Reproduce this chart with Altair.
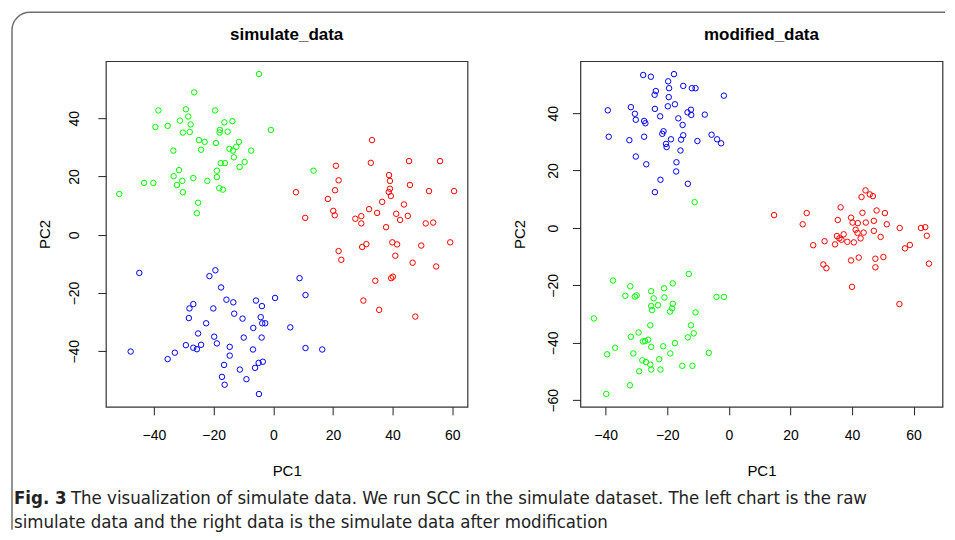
import altair as alt
import pandas as pd

# ---------------- data ----------------
# left panel: simulate_data
sim_red_x = [33.1, 21.0, 32.7, 45.5, 55.9, 38.8, 39.1, 21.9, 45.8, 20.7, 39.1, 38.7, 39.4, 7.6, 52.2, 60.6, 18.3, 36.5, 43.8, 20.1,
             20.6, 32.1, 34.8, 10.7, 27.5, 29.5, 29.5, 41.2, 42.5, 45.1, 37.8, 51.1, 53.6, 31.2, 29.8, 39.9, 41.5, 49.6, 59.3, 21.9,
             22.8, 40.9, 46.7, 54.6, 40.1, 39.5, 34.2, 30.2, 35.5, 47.6]
sim_red_y = [32.5, 23.7, 24.7, 25.3, 25.3, 20.5, 18.5, 18.7, 17.1, 15.3, 15.8, 14.7, 13.3, 14.6, 15.0, 15.0, 12.3, 11.3, 10.4, 8.2,
             6.7, 8.8, 7.5, 5.8, 5.5, 6.4, 3.9, 7.2, 5.1, 6.5, 2.6, 3.9, 4.2, -3.2, -4.2, -2.6, -3.3, -3.7, -2.6, -5.6,
             -8.6, -7.2, -9.6, -10.9, -14.4, -14.9, -15.8, -22.6, -25.8, -28.1]
sim_green_x = [-4.8, -26.5, -38.5, -29.3, -19.5, -28.5, -31.3, -16.4, -13.7, -39.5, -35.4, -27.7, -0.8, -30.3, -28.0, -17.9, -18.0,
               -15.3, -24.9, -23.0, -19.2, -11.5, -12.4, -14.7, -13.5, -33.5, -24.2, -7.4, -13.2, -9.6, -17.6, -16.2, -11.3, -31.6,
               -18.9, -33.4, -26.8, -18.9, -30.5, -22.1, -43.3, -40.2, -32.3, -18.1, -16.9, -51.6, -30.3, -25.2, -25.6, 13.5]
sim_green_y = [55.2, 48.9, 42.7, 43.1, 42.7, 40.6, 39.2, 38.6, 39.0, 37.0, 37.4, 37.9, 36.0, 35.1, 35.3, 36.0, 35.1, 35.4, 32.5, 31.9,
               31.5, 31.9, 30.2, 29.5, 28.9, 28.9, 29.2, 28.9, 26.6, 25.0, 24.6, 24.6, 23.3, 22.2, 22.0, 20.1, 19.5, 19.8, 18.5,
               18.5, 17.8, 17.8, 17.1, 16.0, 15.5, 14.0, 14.6, 11.0, 7.4, 22.0]
sim_blue_x = [-44.9, -19.4, -21.4, 8.8, -17.5, 10.8, -26.8, -28.1, -15.7, -13.4, -5.8, -3.8, 0.6, -20.1, -28.3, -13.1, -10.3, -4.2,
              -22.5, -3.7, -2.7, -6.7, 5.7, -25.2, -19.8, -18.9, -9.9, -3.9, -29.3, -26.8, -25.6, -24.2, -47.8, -14.6, -6.8, 10.8,
              16.4, -33.0, -35.4, -14.6, -16.5, -11.2, -4.9, -3.5, -6.1, -17.2, -16.3, -9.0, -4.8]
sim_blue_y = [-13.1, -12.2, -14.2, -14.9, -18.1, -20.7, -23.8, -25.3, -22.3, -23.2, -22.6, -24.5, -21.7, -25.3, -28.6, -27.1, -28.8,
              -28.3, -30.4, -30.4, -30.4, -32.0, -31.8, -33.9, -35.0, -37.3, -35.3, -35.3, -37.9, -38.8, -39.3, -37.8, -40.1, -38.5,
              -39.4, -38.9, -39.4, -40.5, -42.7, -41.5, -44.7, -46.3, -44.0, -43.6, -45.7, -48.8, -51.5, -49.6, -54.7]

# right panel: modified_data
mod_red_x = [44.4, 45.8, 46.8, 43.1, 36.3, 14.7, 25.3, 24.0, 43.4, 48.0, 50.7, 35.4, 39.7, 40.2, 41.9, 44.5, 47.1, 51.3, 55.5, 62.4,
             63.8, 64.3, 41.2, 41.8, 43.8, 47.1, 49.3, 42.8, 37.3, 35.1, 35.9, 36.6, 38.5, 40.6, 34.5, 31.1, 27.4, 58.8, 57.2, 39.7,
             42.2, 47.6, 50.2, 30.7, 31.7, 47.6, 65.0, 40.0, 55.4]
mod_red_y = [13.1, 11.7, 11.1, 10.8, 7.2, 4.5, 5.2, 1.3, 5.3, 6.1, 5.2, 2.8, 3.6, 1.9, 1.7, 1.9, 2.5, 1.3, 0.0, 0.0,
             0.3, -2.7, -0.6, -1.7, -1.6, -1.0, -3.1, -3.6, -2.2, -2.8, -3.6, -4.1, -4.8, -5.0, -5.7, -4.6, -6.0, -5.9, -7.1, -11.3,
             -10.3, -10.7, -10.1, -12.7, -14.0, -13.7, -12.4, -20.5, -26.5]
mod_green_x = [-13.0, -37.6, -32.0, -18.2, -21.0, -33.6, -30.5, -29.9, -25.2, -24.4, -20.9, -4.0, -1.6, -25.2, -23.0, -18.2, -24.9,
               -18.4, -19.1, -10.8, -43.8, -25.5, -12.3, -29.3, -11.4, -31.8, -13.3, -27.9, -27.2, -26.2, -17.5, -25.2, -21.3, -36.9,
               -39.5, -31.0, -19.0, -6.5, -28.1, -26.9, -25.5, -22.6, -15.1, -11.8, -29.1, -25.2, -22.2, -32.1, -39.8, -11.1]
mod_green_y = [-16.0, -18.3, -20.3, -19.3, -21.0, -23.6, -23.9, -23.5, -22.0, -24.5, -24.2, -24.0, -24.0, -27.2, -26.9, -26.4, -28.6,
               -28.0, -29.1, -29.4, -31.5, -33.9, -33.9, -36.4, -36.7, -37.9, -38.1, -39.5, -39.4, -38.9, -40.1, -41.4, -41.2, -41.7,
               -44.0, -43.7, -43.7, -43.5, -46.1, -46.7, -47.6, -45.7, -48.0, -48.0, -49.9, -49.3, -49.3, -54.8, -57.8, 9.0]
mod_blue_x = [-27.8, -25.3, -17.8, -19.7, -14.8, -12.0, -10.8, -19.4, -23.7, -24.1, -19.5, -1.6, -17.5, -19.8, -31.8, -39.3, -24.0,
              -30.5, -12.3, -13.4, -12.2, -7.8, -22.3, -30.2, -16.4, -27.5, -27.1, -15.0, -39.0, -32.3, -27.5, -21.2, -21.6, -14.8,
              -18.8, -15.5, -5.6, -3.8, -2.5, -10.2, -20.4, -20.2, -15.7, -30.2, -26.8, -17.0, -17.1, -22.2, -13.3, -24.0]
mod_blue_y = [53.3, 52.7, 53.6, 51.1, 49.5, 48.7, 48.7, 48.7, 47.7, 46.4, 45.6, 46.1, 43.1, 42.4, 42.1, 41.0, 41.5, 39.8, 41.2, 40.3,
              39.4, 39.5, 38.9, 37.7, 38.2, 37.3, 36.5, 35.9, 31.8, 30.6, 31.8, 33.7, 32.8, 32.3, 30.9, 30.8, 32.5, 30.9, 29.5, 30.3,
              29.3, 28.2, 27.0, 24.9, 22.2, 22.9, 19.7, 16.8, 15.4, 12.5]

groups = ["red", "green", "blue"]
group_colors = ["#FF0000", "#00FF00", "#0000FF"]
x_ticks = [-40, -20, 0, 20, 40, 60]
left_y_ticks = [-40, -20, 0, 20, 40]
right_y_ticks = [-60, -40, -20, 0, 20, 40]
left_x_domain = [-56.1, 65.1]
left_y_domain = [-59.1, 59.6]
right_x_domain = [-48.2, 69.4]
right_y_domain = [-62.3, 58.1]

panel_titles = ["simulate_data", "modified_data"]
caption_bold = "Fig. 3"
caption_line1 = "The visualization of simulate data. We run SCC in the simulate dataset. The left chart is the raw"
caption_line2 = "simulate data and the right data is the simulate data after modification"


def make_df(reds, greens, blues):
    parts = []
    for g, (xv, yv) in zip(groups, [reds, greens, blues]):
        parts.append(pd.DataFrame({"PC1": xv, "PC2": yv, "grp": g}))
    return pd.concat(parts, ignore_index=True)


sim_df = make_df((sim_red_x, sim_red_y), (sim_green_x, sim_green_y), (sim_blue_x, sim_blue_y))
mod_df = make_df((mod_red_x, mod_red_y), (mod_green_x, mod_green_y), (mod_blue_x, mod_blue_y))

FONT = "Liberation Sans, Arial, sans-serif"
CAPFONT = "Liberation Sans Narrow, Arial Narrow, DejaVu Sans Condensed, Liberation Sans, sans-serif"
H = 346
one = pd.DataFrame({"k": [0]})
base = alt.Chart(one)


def points(df, xdom, ydom, yticks, ylabpad, width):
    xaxis = alt.Axis(values=x_ticks, domain=False, grid=False, tickSize=8, tickColor="#222", tickWidth=1,
                     labelFont=FONT, labelFontSize=14, labelColor="black", labelPadding=14, labelFlush=False,
                     title="PC1", titleFont=FONT, titleFontSize=15, titleFontWeight="normal", titleColor="black",
                     titleX=width / 2, titleY=64, titleBaseline="middle", titleAlign="center")
    yaxis = alt.Axis(values=yticks, domain=False, grid=False, tickSize=8, tickColor="#222", tickWidth=1,
                     labelFont=FONT, labelFontSize=14, labelColor="black", labelPadding=ylabpad, labelFlush=False,
                     labelAngle=270, labelAlign="center", labelBaseline="middle",
                     title="PC2", titleFont=FONT, titleFontSize=15, titleFontWeight="normal", titleColor="black",
                     titleAngle=270, titleX=-61, titleY=H / 2, titleBaseline="middle", titleAlign="center")
    return alt.Chart(df).mark_point(shape="circle", filled=False, size=30, strokeWidth=1, opacity=1).encode(
        x=alt.X("PC1:Q", scale=alt.Scale(domain=xdom, nice=False, zero=False), axis=xaxis),
        y=alt.Y("PC2:Q", scale=alt.Scale(domain=ydom, nice=False, zero=False), axis=yaxis),
        color=alt.Color("grp:N", scale=alt.Scale(domain=groups, range=group_colors), legend=None),
    )


def title_text(txt, width):
    return base.mark_text(text=txt, font=FONT, fontSize=17, fontWeight="bold", align="center",
                          baseline="alphabetic", color="black").encode(x=alt.value(width / 2), y=alt.value(-21))


WL, WR = 362, 362.5
FR = "#6e6e6e"
top_rule = base.mark_rule(color=FR, strokeWidth=1.5).encode(x=alt.value(-76), x2=alt.value(840), y=alt.value(-49))
left_rule = base.mark_rule(color=FR, strokeWidth=1.5).encode(x=alt.value(-94), y=alt.value(-31), y2=alt.value(469))
corner = base.mark_arc(theta=4.7124, theta2=6.2832, radius=18, radius2=18, fill="transparent",
                       stroke=FR, strokeWidth=1.5).encode(x=alt.value(-76), y=alt.value(-31))
CAPSIZE = 18.5
t_bold = base.mark_text(text=caption_bold, font=CAPFONT, fontSize=CAPSIZE, fontWeight="bold", align="left",
                        baseline="alphabetic", color="#222").encode(x=alt.value(-92), y=alt.value(443))
t_l1 = base.mark_text(text=caption_line1, font=CAPFONT, fontSize=CAPSIZE, align="left",
                      baseline="alphabetic", color="#222").encode(x=alt.value(-35), y=alt.value(443))
t_l2 = base.mark_text(text=caption_line2, font=CAPFONT, fontSize=CAPSIZE, align="left",
                      baseline="alphabetic", color="#222").encode(x=alt.value(-92), y=alt.value(467))

left = alt.layer(
    points(sim_df, left_x_domain, left_y_domain, left_y_ticks, 23, WL),
    title_text(panel_titles[0], WL),
    top_rule, left_rule, corner, t_bold, t_l1, t_l2,
).properties(width=WL, height=H)

right = alt.layer(
    points(mod_df, right_x_domain, right_y_domain, right_y_ticks, 19, WR),
    title_text(panel_titles[1], WR),
).properties(width=WR, height=H)

chart = alt.hconcat(left, right, spacing=113, bounds="flush").properties(
    padding={"left": 0, "top": 0, "right": 0, "bottom": 0},
    background="white",
).configure_view(stroke="#333", strokeWidth=1.2)

chart.save("out.html", embed_options={"renderer": "svg", "actions": False})
